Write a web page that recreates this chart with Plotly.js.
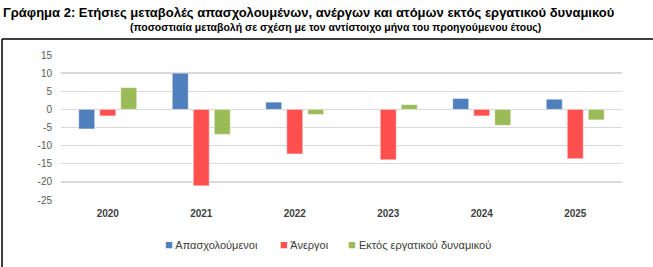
<!DOCTYPE html>
<html>
<head>
<meta charset="utf-8">
<script src="https://cdn.plot.ly/plotly-3.0.1.min.js"></script>
<style>
  html, body { margin: 0; padding: 0; background: #fff; }
  #chart { width: 653px; height: 267px; }
</style>
</head>
<body>
<div id="chart"></div>
<script>
// Annual % change versus the same month of the previous year
const years = ['2020', '2021', '2022', '2023', '2024', '2025'];
const employed = [-5.4, 10.0, 2.0, 0.1, 3.0, 2.8];
const unemployed = [-1.8, -21.1, -12.3, -13.9, -1.8, -13.6];
const inactive = [6.0, -6.9, -1.4, 1.3, -4.4, -2.9];
const seriesNames = ['Απασχολούμενοι', 'Άνεργοι', 'Εκτός εργατικού δυναμικού'];
const yTicks = [15, 10, 5, 0, -5, -10, -15, -20, -25];

const colors = ['#4F7FBD', '#FF4F4F', '#9BBB59'];
const values = [employed, unemployed, inactive];
const FONT = 'Liberation Sans, Arial, sans-serif';

// plot area geometry (px) used to place the compact legend and frame
const W = 653, H = 267;
const M = { l: 61, r: 31, t: 55, b: 67 };
const PW = W - M.l - M.r, PH = H - M.t - M.b;
const px = x => (x - M.l) / PW;          // page x -> paper x
const py = y => 1 - (y - M.t) / PH;      // page y -> paper y

const traces = values.map((v, i) => ({
  type: 'bar',
  name: seriesNames[i],
  x: years,
  y: v,
  marker: { color: colors[i], line: { color: 'rgba(255,255,255,0.45)', width: 1 } },
  hoverinfo: 'x+y+name'
}));

// compact legend: coloured square glyph + series name
const legendX = [163, 278, 346];
const legendAnn = seriesNames.map((n, i) => ({
  text: '<span style="color:' + colors[i] + ';font-size:13px">■</span> ' + n,
  xref: 'paper', yref: 'paper',
  x: px(legendX[i]), y: py(244),
  xanchor: 'left', yanchor: 'middle',
  showarrow: false,
  font: { family: FONT, size: 11, color: '#3A3A3A' }
}));

const layout = {
  width: W,
  height: H,
  margin: { l: M.l, r: M.r, t: M.t, b: M.b, pad: 0 },
  paper_bgcolor: '#ffffff',
  plot_bgcolor: '#ffffff',
  font: { family: FONT, color: '#404040' },
  barmode: 'group',
  bargap: 0.326,
  bargroupgap: 0.24,
  showlegend: false,
  xaxis: {
    type: 'category',
    showline: false,
    showgrid: false,
    zeroline: false,
    ticks: '',
    tickfont: { family: FONT, size: 10, color: '#404040', weight: 'bold' },
    ticklabelstandoff: 6
  },
  yaxis: {
    range: [-25, 15],
    tickvals: yTicks,
    ticktext: yTicks.map(String),
    showgrid: true,
    gridcolor: '#D9D9D9',
    gridwidth: 1.3,
    zeroline: true,
    zerolinecolor: '#D9D9D9',
    zerolinewidth: 1.3,
    showline: false,
    ticks: '',
    tickfont: { family: FONT, size: 10, color: '#595959' },
    ticklabelstandoff: 8
  },
  title: {
    text: '<b>Γράφημα 2: Ετήσιες μεταβολές απασχολουμένων, ανέργων και ατόμων εκτός εργατικού δυναμικού</b>',
    font: { family: FONT, size: 13, color: '#000' },
    x: 3 / W, xanchor: 'left', xref: 'container',
    y: 1 - 12 / H, yanchor: 'middle', yref: 'container'
  },
  annotations: [{
    text: '<b>(ποσοστιαία μεταβολή σε σχέση με τον αντίστοιχο μήνα του προηγούμενου έτους)</b>',
    xref: 'paper', yref: 'paper',
    x: px(335), y: py(27), xanchor: 'center', yanchor: 'middle',
    showarrow: false,
    font: { family: FONT, size: 10.5, color: '#000' }
  }].concat(legendAnn),
  shapes: [
    { type: 'line', xref: 'paper', yref: 'paper',
      x0: px(2), x1: px(W), y0: py(39), y1: py(39),
      line: { color: '#000', width: 1.5 } },
    { type: 'line', xref: 'paper', yref: 'paper',
      x0: px(2), x1: px(2), y0: py(39), y1: py(H),
      line: { color: '#000', width: 1.5 } }
  ]
};

Plotly.newPlot('chart', traces, layout, { displayModeBar: false, staticPlot: true });
</script>
</body>
</html>
